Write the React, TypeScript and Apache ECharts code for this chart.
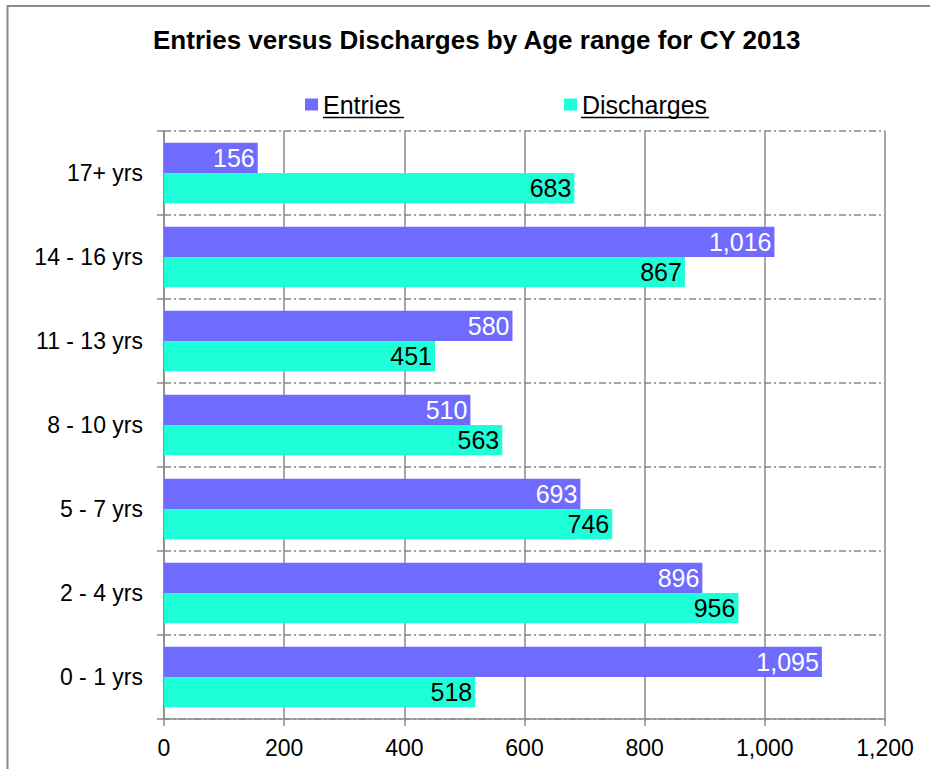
import React, { useEffect, useRef } from "react";
import * as echarts from "echarts";

const categories = ["0 - 1 yrs", "2 - 4 yrs", "5 - 7 yrs", "8 - 10 yrs", "11 - 13 yrs", "14 - 16 yrs", "17+ yrs"];
const entries = [1095, 896, 693, 510, 580, 1016, 156];
const discharges = [518, 956, 746, 563, 451, 867, 683];
const xTicks = { min: 0, max: 1200, interval: 200 };
const titleText = "Entries versus Discharges by Age range for CY 2013";
const seriesNames = ["Entries", "Discharges"];

const FONT = "'Liberation Sans', Arial, sans-serif";
const GRAY = "#8a8a8a";
const fmt = (v: number) => v.toLocaleString("en-US");

export default function App() {
  const ref = useRef<HTMLDivElement>(null);
  useEffect(() => {
    document.body.style.margin = "0";
    if (!ref.current) return;
    const chart = echarts.init(ref.current, null, { renderer: "svg" });
    chart.setOption({
      animation: false,
      backgroundColor: "#ffffff",
      title: {
        text: titleText,
        left: 148,
        top: 22,
        textStyle: { fontFamily: FONT, fontSize: 26, fontWeight: "bold", color: "#000" },
      },
      legend: [
        {
          data: [seriesNames[0]],
          left: 300,
          top: 87,
          icon: "rect",
          itemWidth: 13,
          itemHeight: 12,
          textStyle: { fontFamily: FONT, fontSize: 25, color: "#000" },
          selectedMode: false,
        },
        {
          data: [seriesNames[1]],
          left: 559,
          top: 87,
          icon: "rect",
          itemWidth: 13,
          itemHeight: 12,
          textStyle: { fontFamily: FONT, fontSize: 25, color: "#000" },
          selectedMode: false,
        },
      ],
      graphic: [
        {
          type: "rect",
          shape: { x: 7.5, y: 6, width: 1000, height: 1000 },
          style: { fill: "none", stroke: GRAY, lineWidth: 2 },
          silent: true,
        },
        {
          type: "line",
          shape: { x1: 323, y1: 117.5, x2: 404, y2: 117.5 },
          style: { stroke: "#000", lineWidth: 1.5 },
        },
        {
          type: "line",
          shape: { x1: 581, y1: 117.5, x2: 709, y2: 117.5 },
          style: { stroke: "#000", lineWidth: 1.5 },
        },
      ],
      grid: { left: 164, right: 45, top: 131, bottom: 50 },
      xAxis: {
        type: "value",
        min: xTicks.min,
        max: xTicks.max,
        interval: xTicks.interval,
        axisLine: { show: true, lineStyle: { color: GRAY, width: 1.5 } },
        axisTick: { show: true, length: 7, lineStyle: { color: GRAY, width: 1.5 } },
        splitLine: { show: true, lineStyle: { color: GRAY, width: 1.5 } },
        axisLabel: {
          fontFamily: FONT,
          fontSize: 23,
          color: "#000",
          margin: 17,
          formatter: (v: number) => fmt(v),
        },
      },
      yAxis: {
        type: "category",
        data: categories,
        axisLine: { show: true, lineStyle: { color: GRAY, width: 1.5 } },
        axisTick: { show: true, length: 7, lineStyle: { color: GRAY, width: 1.5 } },
        splitLine: { show: true, lineStyle: { color: GRAY, width: 1.5, type: [7, 3, 2, 3] } },
        axisLabel: { fontFamily: FONT, fontSize: 23, color: "#000", margin: 21 },
      },
      series: [
        {
          name: seriesNames[0],
          type: "bar",
          data: entries,
          barGap: "0%",
          barCategoryGap: "28%",
          itemStyle: { color: "#6F6BFF" },
          label: {
            show: true,
            position: "insideRight",
            distance: 3,
            fontFamily: FONT,
            fontSize: 25,
            color: "#ffffff",
            formatter: (p: any) => fmt(p.value),
          },
        },
        {
          name: seriesNames[1],
          type: "bar",
          data: discharges,
          barGap: "0%",
          barCategoryGap: "28%",
          itemStyle: { color: "#1DFFD6" },
          label: {
            show: true,
            position: "insideRight",
            distance: 3,
            fontFamily: FONT,
            fontSize: 25,
            color: "#000000",
            formatter: (p: any) => fmt(p.value),
          },
        },
      ],
    });
    return () => chart.dispose();
  }, []);
  return <div ref={ref} style={{ width: 930, height: 769 }} />;
}
